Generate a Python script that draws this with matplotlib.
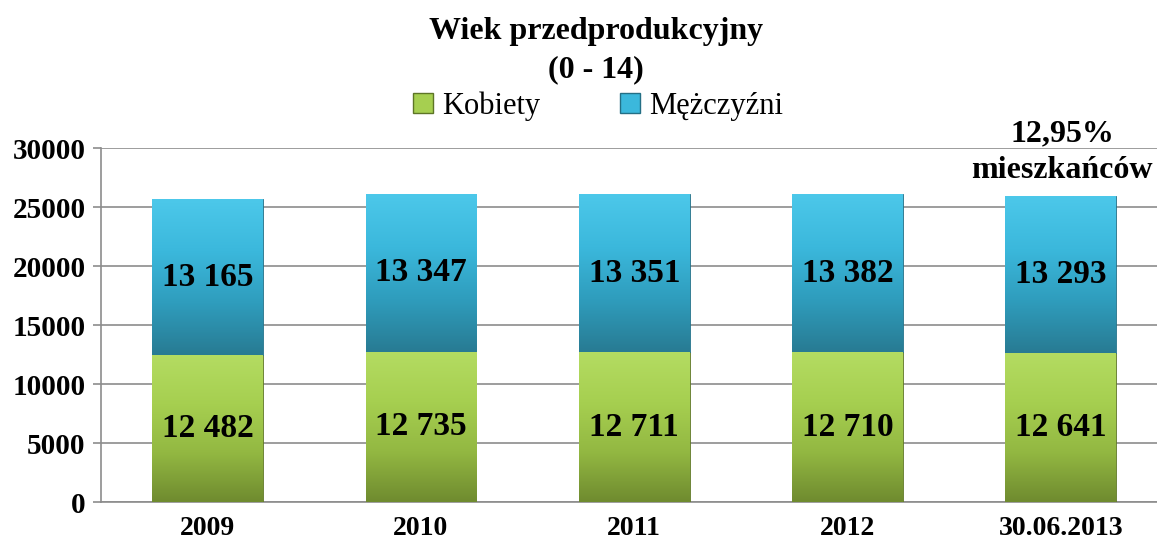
import numpy as np
import matplotlib
matplotlib.use("Agg")
import matplotlib.pyplot as plt
from matplotlib.colors import LinearSegmentedColormap
from matplotlib.patches import Patch

categories = ["2009", "2010", "2011", "2012", "30.06.2013"]
kobiety = [12482, 12735, 12711, 12710, 12641]
mezczyzni = [13165, 13347, 13351, 13382, 13293]
labels_k = ["12 482", "12 735", "12 711", "12 710", "12 641"]
labels_m = ["13 165", "13 347", "13 351", "13 382", "13 293"]
yticks = [0, 5000, 10000, 15000, 20000, 25000, 30000]

plt.rcParams["font.family"] = ["Liberation Serif", "DejaVu Serif"]

GREEN = ["#6f8b2f", "#93b842", "#a6cf50", "#b4dc62"]
BLUE = ["#287b93", "#2f9dbd", "#3bb8dc", "#4cc8ea"]

fig = plt.figure(figsize=(11.57, 5.44), dpi=100)
ax = fig.add_axes([0.0873, 0.0772, 0.9218, 0.6507])

x = np.arange(len(categories))
w = 0.52
bk = ax.bar(x, kobiety, w, color=GREEN[2], edgecolor="#5d7526", lw=0.6, zorder=3)
bm = ax.bar(x, mezczyzni, w, bottom=kobiety, color=BLUE[2], edgecolor="#246f85", lw=0.6, zorder=3)

# vertical gradient inside each bar
grad = np.linspace(0, 1, 128).reshape(-1, 1)
for bars, cols in ((bk, GREEN), (bm, BLUE)):
    cmap = LinearSegmentedColormap.from_list("g", cols)
    for b in bars:
        x0, y0 = b.get_x(), b.get_y()
        im = ax.imshow(grad, cmap=cmap, origin="lower", aspect="auto",
                       extent=[x0, x0 + b.get_width(), y0, y0 + b.get_height()], zorder=3.1)
        im.set_clip_path(b)

for i in range(len(categories)):
    ax.text(x[i], kobiety[i] / 2, labels_k[i], ha="center", va="center",
            fontsize=24, fontweight="bold", zorder=5)
    ax.text(x[i], kobiety[i] + mezczyzni[i] / 2, labels_m[i], ha="center", va="center",
            fontsize=24, fontweight="bold", zorder=5)

ax.set_xlim(-0.5, len(categories) - 0.5)
ax.set_ylim(0, 30000)
ax.set_yticks(yticks)
ax.set_yticklabels([str(v) for v in yticks], fontsize=21, fontweight="bold")
ax.set_xticks(x)
ax.set_xticklabels(categories, fontsize=20, fontweight="bold")
ax.yaxis.grid(True, color="#8c8c8c", lw=1.2, zorder=0)
ax.set_axisbelow(True)
for s in ("top", "right"):
    ax.spines[s].set_visible(False)
for s in ("left", "bottom"):
    ax.spines[s].set_color("#8c8c8c")
    ax.spines[s].set_linewidth(1.2)
ax.tick_params(axis="y", length=6, color="#8c8c8c", width=1.2, pad=5)
ax.tick_params(axis="x", length=0, pad=10)

fig.text(0.515, 0.942, "Wiek przedprodukcyjny", ha="center", va="center",
         fontsize=23, fontweight="bold")
fig.text(0.515, 0.872, "(0 - 14)", ha="center", va="center",
         fontsize=23, fontweight="bold")

handles = [Patch(facecolor=GREEN[2], edgecolor="#5d7526"),
           Patch(facecolor=BLUE[2], edgecolor="#246f85")]
fig.legend(handles, ["Kobiety", "Mężczyźni"], loc="center", bbox_to_anchor=(0.517, 0.805),
           ncol=2, frameon=False, fontsize=22, handlelength=0.65, handleheight=0.65,
           handletextpad=0.3, columnspacing=2.6)

fig.text(0.918, 0.753, "12,95%", ha="center", va="center", fontsize=23, fontweight="bold")
fig.text(0.918, 0.686, "mieszkańców", ha="center", va="center", fontsize=23, fontweight="bold")

fig.savefig("out.png", dpi=100)
